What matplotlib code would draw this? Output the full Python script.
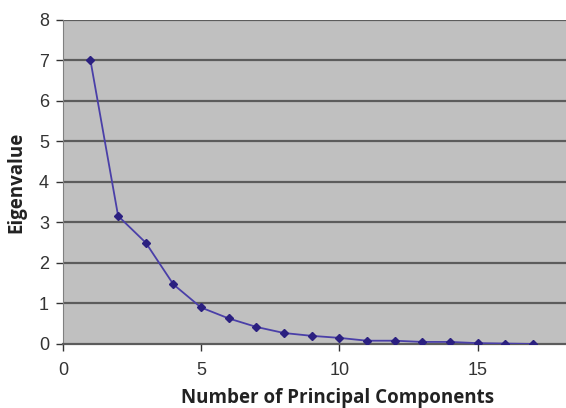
import matplotlib.pyplot as plt

# eigenvalues
components = [1, 2, 3, 4, 5, 6, 7, 8, 9, 10, 11, 12, 13, 14, 15, 16, 17]
eigenvalues = [7.0, 3.16, 2.5, 1.47, 0.9, 0.63, 0.42, 0.27, 0.2, 0.15,
               0.08, 0.08, 0.05, 0.05, 0.02, 0.01, 0.0]

x_ticks = [0, 5, 10, 15]
y_ticks = [0, 1, 2, 3, 4, 5, 6, 7, 8]

plt.rcParams['font.family'] = ['Liberation Sans', 'DejaVu Sans']

fig = plt.figure(figsize=(5.66, 4.08), dpi=100)
ax = fig.add_axes([0.111, 0.157, 0.889, 0.794])
ax.set_facecolor('#c0c0c0')

for y in y_ticks[1:]:
    ax.axhline(y, color='#5c5c5c', lw=1.6, zorder=1)

ax.plot(components, eigenvalues, color='#4a3fa8', lw=1.3, marker='D',
        markersize=4.5, markerfacecolor='#2b2080', markeredgecolor='#2b2080',
        zorder=3)

ax.set_xlim(0, 18.2)
ax.set_ylim(0, 8)
ax.set_xticks(x_ticks)
ax.set_yticks(y_ticks)
ax.tick_params(labelsize=13, colors='#333333', length=5, width=1)
ax.tick_params(axis='y', pad=5)
ax.tick_params(axis='x', pad=8)

for s in ['top', 'right']:
    ax.spines[s].set_visible(False)
ax.spines['left'].set_color('#808080')
ax.spines['bottom'].set_color('#5c5c5c')
ax.spines['bottom'].set_linewidth(1.6)

ax.set_xlabel('Number of Principal Components', fontsize=13.5, fontweight='bold',
              family=['Open Sans', 'DejaVu Sans'], color='#222222')
ax.xaxis.set_label_coords(0.546, -0.136)
ax.set_ylabel('Eigenvalue', fontsize=13.5, fontweight='bold',
              family=['Open Sans', 'DejaVu Sans'], labelpad=9, color='#222222')

fig.savefig('out.png', dpi=100)
